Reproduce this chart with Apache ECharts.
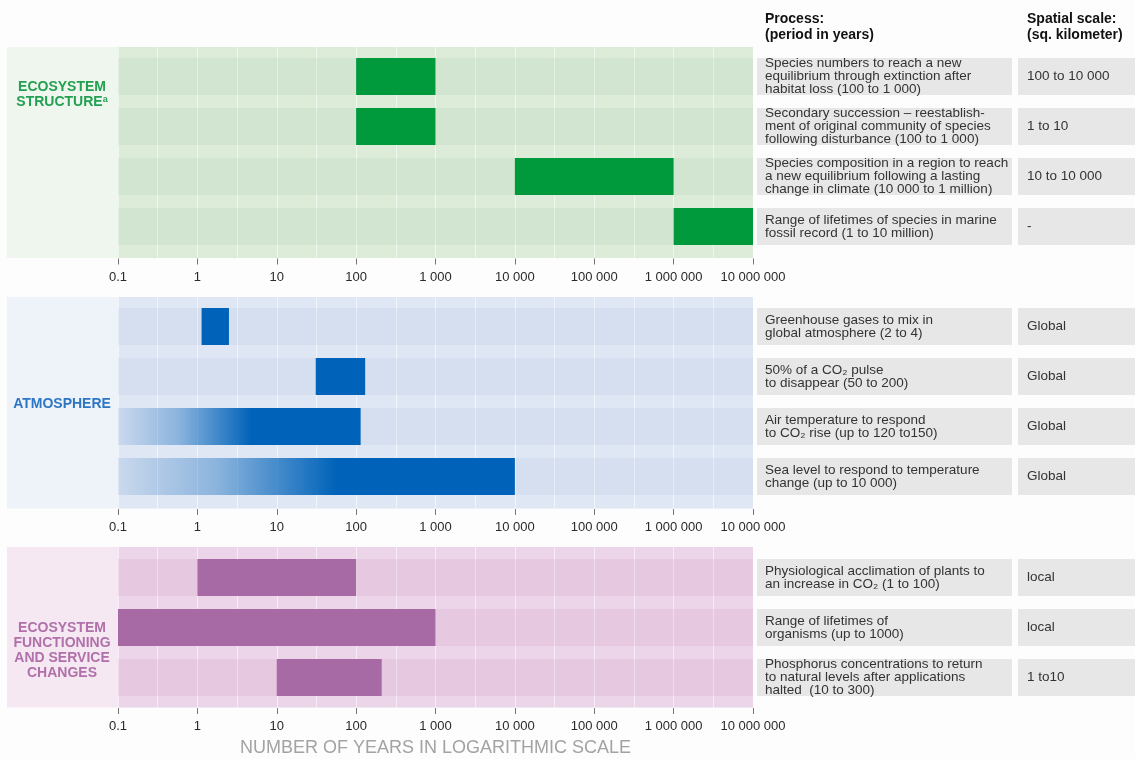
<!DOCTYPE html>
<html>
<head>
<meta charset="utf-8">
<title>Time scales of ecosystem processes</title>
<script src="https://cdn.jsdelivr.net/npm/echarts@6/dist/echarts.min.js"></script>
<style>
  html, body { margin: 0; padding: 0; background: #fdfdfd; }
  #chart { width: 1135px; height: 759px; }
</style>
</head>
<body>
<div id="chart"></div>
<script>
// tick labels of the shared log axis (0.1 .. 10 million years)
const TICK_LABELS = ['0.1', '1', '10', '100', '1 000', '10 000', '100 000', '1 000 000', '10 000 000'];

// ecosystem structure
const STRUCTURE_PROCESSES = [
  'Species numbers to reach a new\nequilibrium through extinction after\nhabitat loss (100 to 1 000)',
  'Secondary succession – reestablish-\nment of original community of species\nfollowing disturbance (100 to 1 000)',
  'Species composition in a region to reach\na new equilibrium following a lasting\nchange in climate (10 000 to 1 million)',
  'Range of lifetimes of species in marine\nfossil record (1 to 10 million)'
];
const STRUCTURE_SCALES = ['100 to 10 000', '1 to 10', '10 to 10 000', '-'];
const STRUCTURE_FROM = [100, 100, 10000, 1000000];
const STRUCTURE_TO = [1000, 1000, 1000000, 10000000];
const STRUCTURE_FADE = [0, 0, 0, 0];

// atmosphere
const ATMOSPHERE_PROCESSES = [
  'Greenhouse gases to mix in\nglobal atmosphere (2 to 4)',
  '50% of a CO₂ pulse\nto disappear (50 to 200)',
  'Air temperature to respond\nto CO₂ rise (up to 120 to150)',
  'Sea level to respond to temperature\nchange (up to 10 000)'
];
const ATMOSPHERE_SCALES = ['Global', 'Global', 'Global', 'Global'];
const ATMOSPHERE_FROM = [1.13, 31, 0.1, 0.1];
const ATMOSPHERE_TO = [2.5, 130, 114, 10000];
const ATMOSPHERE_FADE = [0, 0, 1, 1];

// ecosystem functioning and service changes
const FUNCTIONING_PROCESSES = [
  'Physiological acclimation of plants to\nan increase in CO₂ (1 to 100)',
  'Range of lifetimes of\norganisms (up to 1000)',
  'Phosphorus concentrations to return\nto natural levels after applications\nhalted  (10 to 300)'
];
const FUNCTIONING_SCALES = ['local', 'local', '1 to10'];
const FUNCTIONING_FROM = [1, 0.1, 10];
const FUNCTIONING_TO = [100, 1000, 210];
const FUNCTIONING_FADE = [0, 0, 0];

const FONT = '"Liberation Sans", Arial, Helvetica, sans-serif';

const PANELS = [
  {
    label: 'ECOSYSTEM\nSTRUCTURE{sup|a}', labelY: 95,
    top: 47, bottom: 258, rowsTop: 51.5, rowsHeight: 200, axisOffset: 7,
    side: '#eef6ee', plot: '#dcecd9', band: 'rgba(0,100,20,0.045)',
    bar: '#009a3d', ink: '#24a052',
    processes: STRUCTURE_PROCESSES, scales: STRUCTURE_SCALES,
    from: STRUCTURE_FROM, to: STRUCTURE_TO, fade: STRUCTURE_FADE
  },
  {
    label: 'ATMOSPHERE', labelY: 404,
    top: 297, bottom: 508.5, rowsTop: 301.5, rowsHeight: 200, axisOffset: 7.5,
    side: '#eef2f9', plot: '#dfe6f4', band: 'rgba(0,60,170,0.045)',
    bar: '#0063b9', ink: '#2d76c4',
    processes: ATMOSPHERE_PROCESSES, scales: ATMOSPHERE_SCALES,
    from: ATMOSPHERE_FROM, to: ATMOSPHERE_TO, fade: ATMOSPHERE_FADE
  },
  {
    label: 'ECOSYSTEM\nFUNCTIONING\nAND SERVICE\nCHANGES', labelY: 651,
    top: 547, bottom: 707.5, rowsTop: 552.5, rowsHeight: 150, axisOffset: 5.5,
    side: '#f6e8f3', plot: '#ecd5e8', band: 'rgba(150,30,130,0.07)',
    bar: '#a86aa4', ink: '#b070a9',
    processes: FUNCTIONING_PROCESSES, scales: FUNCTIONING_SCALES,
    from: FUNCTIONING_FROM, to: FUNCTIONING_TO, fade: FUNCTIONING_FADE
  }
];

const PLOT_LEFT = 118;
const PLOT_WIDTH = 635;

function tickLabel(v) {
  const i = Math.round(Math.log10(v)) + 1;
  return TICK_LABELS[i] || '';
}

function rgba(hex, a) {
  const n = parseInt(hex.slice(1), 16);
  return 'rgba(' + (n >> 16) + ',' + ((n >> 8) & 255) + ',' + (n & 255) + ',' + a + ')';
}

// one custom series per panel: row band, bar, and the two table cells on the right
function makeRenderer(panel) {
  return function (params, api) {
    const cs = params.coordSys;
    const row = api.value(1);
    const p0 = api.coord([api.value(0), row]);
    const p1 = api.coord([api.value(2), row]);
    const h = api.size([0, 1])[1] * 0.74;
    const top = p0[1] - h / 2;
    const right = cs.x + cs.width;
    let fill = panel.bar;
    if (api.value(3)) {
      fill = new echarts.graphic.LinearGradient(0, 0, 1, 0, [
        { offset: 0, color: rgba(panel.bar, 0.05) },
        { offset: 0.25, color: rgba(panel.bar, 0.35) },
        { offset: 0.55, color: panel.bar },
        { offset: 1, color: panel.bar }
      ]);
    }
    const cellText = {
      fill: '#333', fontSize: 13.5, fontFamily: FONT, lineHeight: 13,
      align: 'left', verticalAlign: 'middle'
    };
    return {
      type: 'group',
      children: [
        { type: 'rect', shape: { x: cs.x, y: top, width: cs.width, height: h }, style: { fill: panel.band } },
        { type: 'rect', shape: { x: p0[0], y: top, width: p1[0] - p0[0], height: h }, style: { fill: fill } },
        { type: 'rect', shape: { x: right + 4, y: top, width: 255, height: h }, style: { fill: '#e7e7e7' } },
        { type: 'text', style: Object.assign({ x: right + 12, y: p0[1], text: panel.processes[row] }, cellText) },
        { type: 'rect', shape: { x: right + 265, y: top, width: 130, height: h }, style: { fill: '#e7e7e7' } },
        { type: 'text', style: Object.assign({ x: right + 274, y: p0[1], text: panel.scales[row] }, cellText) }
      ]
    };
  };
}

const chart = echarts.init(document.getElementById('chart'), null, { renderer: 'canvas' });

const grid = [];
const xAxis = [];
const yAxis = [];
const series = [];
const graphic = [];

PANELS.forEach(function (p, k) {
  // data grid
  grid.push({ left: PLOT_LEFT, width: PLOT_WIDTH, top: p.rowsTop, height: p.rowsHeight });
  xAxis.push({
    type: 'log', logBase: 10, min: 0.1, max: 10000000, splitNumber: 8,
    gridIndex: k, offset: p.axisOffset,
    axisLine: { lineStyle: { color: '#777', width: 1 } },
    axisTick: { show: true, length: 6, lineStyle: { color: '#777' } },
    axisLabel: { color: '#2a2a2a', fontSize: 13, fontFamily: FONT, margin: 12, formatter: tickLabel },
    splitLine: { show: false },
    name: k === 2 ? 'NUMBER OF YEARS IN LOGARITHMIC SCALE' : '',
    nameLocation: 'middle', nameGap: 31,
    nameTextStyle: { color: '#a3a3a3', fontSize: 18, fontFamily: FONT }
  });
  yAxis.push({
    type: 'category', gridIndex: k, inverse: true, data: p.processes,
    axisLine: { show: false }, axisTick: { show: false }, axisLabel: { show: false },
    splitLine: { show: false }
  });
  series.push({
    type: 'custom', name: p.label, xAxisIndex: k, yAxisIndex: k, z: 3,
    renderItem: makeRenderer(p),
    encode: { x: [0, 2], y: 1 },
    data: p.from.map(function (v, i) { return [v, i, p.to[i], p.fade[i]]; })
  });

  // panel side strip and label
  graphic.push({
    type: 'rect', z: -10,
    shape: { x: 7, y: p.top, width: PLOT_LEFT - 7, height: p.bottom - p.top },
    style: { fill: p.side }
  });
  graphic.push({
    type: 'text', x: 62, y: p.labelY,
    style: {
      text: p.label, fill: p.ink, fontSize: 14, fontWeight: 'bold', fontFamily: FONT,
      lineHeight: 15, align: 'center', verticalAlign: 'middle',
      rich: { sup: { fontSize: 9, fontWeight: 'bold', fill: p.ink, verticalAlign: 'top', lineHeight: 15 } }
    }
  });
});

// background grids for the plot area: half-decade grid lines
PANELS.forEach(function (p, k) {
  grid.push({
    left: PLOT_LEFT, width: PLOT_WIDTH, top: p.top, height: p.bottom - p.top,
    show: true, backgroundColor: p.plot, borderWidth: 0, z: -2
  });
  xAxis.push({
    type: 'value', gridIndex: 3 + k, min: -1, max: 7, interval: 0.5, z: -1,
    axisLine: { show: false }, axisTick: { show: false }, axisLabel: { show: false },
    splitLine: { show: true, lineStyle: { color: 'rgba(255,255,255,0.55)', width: 1 } }
  });
  yAxis.push({ type: 'value', gridIndex: 3 + k, show: false, min: 0, max: 1 });
});

// column headers
graphic.push({
  type: 'text', x: 765, y: 11,
  style: {
    text: 'Process:\n(period in years)', fill: '#111', fontSize: 14, fontWeight: 'bold',
    fontFamily: FONT, lineHeight: 16, align: 'left', verticalAlign: 'top'
  }
});
graphic.push({
  type: 'text', x: 1027, y: 11,
  style: {
    text: 'Spatial scale:\n(sq. kilometer)', fill: '#111', fontSize: 14, fontWeight: 'bold',
    fontFamily: FONT, lineHeight: 16, align: 'left', verticalAlign: 'top'
  }
});

chart.setOption({
  backgroundColor: '#fdfdfd',
  animation: false,
  textStyle: { fontFamily: FONT },
  grid: grid,
  xAxis: xAxis,
  yAxis: yAxis,
  series: series,
  graphic: graphic
});

window.addEventListener('resize', function () { chart.resize(); });
</script>
</body>
</html>
